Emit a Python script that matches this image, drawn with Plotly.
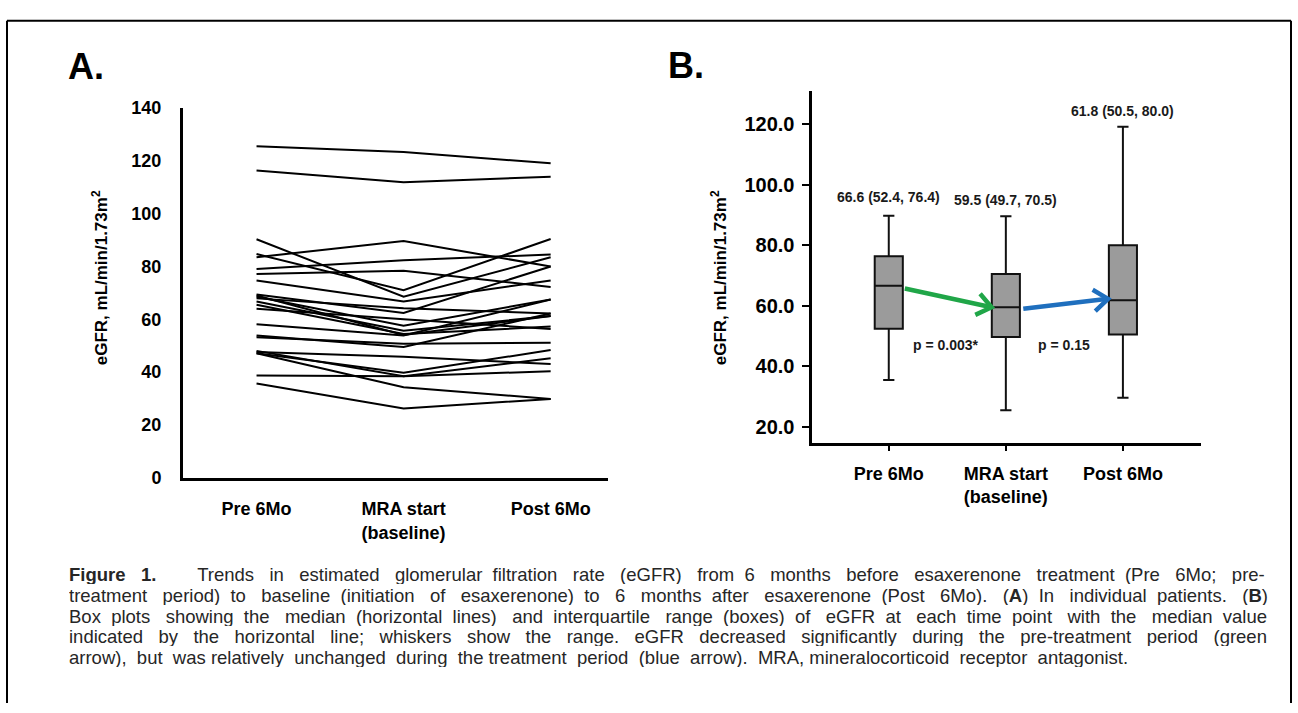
import math
import re
import plotly.graph_objects as go

W, H = 1298, 713

# ---------------- data ----------------
time_points = ["Pre 6Mo", "MRA start<br>(baseline)", "Post 6Mo"]

# Panel A: individual patients (eGFR at Pre 6Mo, MRA start, Post 6Mo)
egfr_pre = [125.6, 116.4, 90.3, 83.5, 84.7, 79.0, 77.1, 74.7, 69.4, 68.5, 67.9, 66.7,
            65.5, 64.0, 58.1, 53.8, 53.2, 47.6, 47.1, 48.0, 38.7, 47.1, 35.6, 69.0]
egfr_mra = [123.4, 111.9, 68.5, 89.6, 71.0, 82.4, 78.4, 66.7, 62.4, 57.5, 64.2, 55.6,
            54.4, 60.0, 53.8, 49.5, 50.7, 45.8, 39.7, 38.4, 38.4, 34.2, 26.2, 54.0]
egfr_post = [119.1, 114.0, 83.5, 80.0, 90.4, 84.5, 72.2, 74.7, 80.0, 67.5, 62.2, 61.2,
             57.2, 56.3, 67.5, 62.2, 51.1, 43.0, 48.3, 45.2, 40.3, 29.8, 29.8, 61.2]

# Panel B: box plot summary statistics
box_min = [35.5, 25.5, 29.6]
box_q1 = [52.4, 49.7, 50.5]
box_median = [66.6, 59.5, 61.8]
box_q3 = [76.4, 70.5, 80.0]
box_max = [89.8, 89.6, 119.2]
box_labels = ["66.6 (52.4, 76.4)", "59.5 (49.7, 70.5)", "61.8 (50.5, 80.0)"]

# arrows (start x, start y, end x, end y) in data units of panel B
arrow_green = (0.137, 65.7, 0.878, 59.5)
arrow_blue = (1.149, 59.05, 1.873, 62.3)
p_labels = ["p = 0.003*", "p = 0.15"]
p_label_pos = [(0.49, 47.0), (1.5, 47.0)]

yticks_a = [0, 20, 40, 60, 80, 100, 120, 140]
yticks_b = [20.0, 40.0, 60.0, 80.0, 100.0, 120.0]

caption_lines = [
    "<b>Figure 1.</b>   Trends in estimated glomerular filtration rate (eGFR) from 6 months before esaxerenone treatment (Pre 6Mo; pre-",
    "treatment period) to baseline (initiation of esaxerenone) to 6 months after esaxerenone (Post 6Mo). (<b>A</b>) In individual patients. (<b>B</b>)",
    "Box plots showing the median (horizontal lines) and interquartile range (boxes) of eGFR at each time point with the median value",
    "indicated by the horizontal line; whiskers show the range. eGFR decreased significantly during the pre-treatment period (green",
    "arrow), but was relatively unchanged during the treatment period (blue arrow). MRA, mineralocorticoid receptor antagonist.",
]
caption_right_edge = [1264, 1264, 1264, 1264, 1128]

# ---------------- layout geometry ----------------
def px(x):
    return x / W

def py(y):
    return 1 - y / H

xa_dom = [px(183), px(608)]
ya_dom = [py(481), py(101)]
xb_dom = [px(811.5), px(1201)]
yb_dom = [py(446), py(83)]
xa_range = [-0.5, 2.39]
ya_range = [0, 140]
xb_range = [-0.66, 2.667]
yb_range = [14.5, 131.1]

FONT = "Liberation Sans, Arial, Helvetica, sans-serif"
CAP_SIZE = 18.5
CAP_X0 = 67

# Arial / Liberation Sans advance widths (1/1000 em) for justification
_CW = {" ": 278, ".": 278, ",": 278, ";": 278, ":": 278, "(": 333, ")": 333, "-": 333, "*": 389,
       "a": 556, "b": 556, "c": 500, "d": 556, "e": 556, "f": 278, "g": 556, "h": 556, "i": 222,
       "j": 222, "k": 500, "l": 222, "m": 833, "n": 556, "o": 556, "p": 556, "q": 556, "r": 333,
       "s": 500, "t": 278, "u": 556, "v": 500, "w": 722, "x": 500, "y": 500, "z": 500,
       "A": 667, "B": 667, "C": 722, "D": 722, "E": 667, "F": 611, "G": 778, "H": 722, "I": 278,
       "M": 833, "P": 667, "R": 722, "T": 611}

def measure(html, size):
    total, bold = 0.0, False
    for tok in re.split(r"(<b>|</b>)", html):
        if tok == "<b>":
            bold = True
            continue
        if tok == "</b>":
            bold = False
            continue
        for ch in tok:
            w = _CW.get(ch, 556)
            total += w * (1.07 if bold and ch != " " else 1.0)
    return total * size / 1000

def justify(html, size, width):
    parts = html.split(" ")
    gaps = len(parts) - 1
    extra = width - measure(html, size)
    n = max(0, int(round(extra / (0.278 * size))))
    out = parts[0]
    acc = 0.0
    for k in range(1, len(parts)):
        target = n * k / gaps
        add = int(round(target - acc))
        acc += add
        out += " " * (1 + add) + parts[k]
    return out

fig = go.Figure()

# Panel A lines
xs = [0, 1, 2]
for a, b, c in zip(egfr_pre, egfr_mra, egfr_post):
    fig.add_trace(go.Scatter(x=xs, y=[a, b, c], mode="lines",
                             line=dict(color="black", width=2),
                             xaxis="x", yaxis="y", showlegend=False, hoverinfo="skip"))

# Panel B boxes
fig.add_trace(go.Box(
    x=xs, q1=box_q1, median=box_median, q3=box_q3,
    lowerfence=box_min, upperfence=box_max,
    width=0.24, whiskerwidth=0.4,
    fillcolor="#9b9b9b", line=dict(color="#111111", width=2),
    xaxis="x2", yaxis="y2", showlegend=False, boxpoints=False, hoverinfo="skip"))

# arrows in panel B (shaft + open chevron head)
xb_ppu = (xb_dom[1] - xb_dom[0]) * W / (xb_range[1] - xb_range[0])
yb_ppu = (yb_dom[1] - yb_dom[0]) * H / (yb_range[1] - yb_range[0])

def arrow(coords, color):
    x0, y0, x1, y1 = coords
    dxp = (x1 - x0) * xb_ppu
    dyp = (y1 - y0) * yb_ppu
    ang = math.atan2(dyp, dxp)
    L = 18
    arms = []
    for s in (1, -1):
        a = ang + math.pi + s * math.radians(38)
        arms.append((x1 + L * math.cos(a) / xb_ppu, y1 + L * math.sin(a) / yb_ppu))
    fig.add_trace(go.Scatter(x=[x0, x1], y=[y0, y1], mode="lines",
                             line=dict(color=color, width=4.5),
                             xaxis="x2", yaxis="y2", showlegend=False, hoverinfo="skip"))
    fig.add_trace(go.Scatter(x=[arms[0][0], x1, arms[1][0]], y=[arms[0][1], y1, arms[1][1]],
                             mode="lines", line=dict(color=color, width=4.5),
                             xaxis="x2", yaxis="y2", showlegend=False, hoverinfo="skip"))

arrow(arrow_green, "#20a648")
arrow(arrow_blue, "#1f6fbe")

annotations = []
# box labels
for i, (lab, mx) in enumerate(zip(box_labels, box_max)):
    annotations.append(dict(x=i, y=mx, xref="x2", yref="y2", text=lab, showarrow=False,
                            xanchor="center", yanchor="bottom", yshift=6 if i != 0 else 9,
                            font=dict(family=FONT, size=14, color="#1a1a1a", weight="bold")))
for lab, (x, y) in zip(p_labels, p_label_pos):
    annotations.append(dict(x=x, y=y, xref="x2", yref="y2", text=lab, showarrow=False,
                            xanchor="center", yanchor="middle",
                            font=dict(family=FONT, size=14, color="#1a1a1a", weight="bold")))

# y axis titles
ytitle = "eGFR, mL/min/1.73m<sup>2</sup>"
annotations.append(dict(x=px(100), y=py(276), xref="paper", yref="paper", text=ytitle,
                        textangle=-90, showarrow=False, xanchor="center", yanchor="middle",
                        font=dict(family=FONT, size=17, color="black", weight="bold")))
annotations.append(dict(x=px(719), y=py(276), xref="paper", yref="paper", text=ytitle,
                        textangle=-90, showarrow=False, xanchor="center", yanchor="middle",
                        font=dict(family=FONT, size=17, color="black", weight="bold")))

# panel letters
annotations.append(dict(x=px(66), y=py(58), xref="paper", yref="paper", text="<b>A.</b>",
                        showarrow=False, xanchor="left", yanchor="middle",
                        font=dict(family=FONT, size=36, color="black")))
annotations.append(dict(x=px(666), y=py(57), xref="paper", yref="paper", text="<b>B.</b>",
                        showarrow=False, xanchor="left", yanchor="middle",
                        font=dict(family=FONT, size=36, color="black")))

# caption
cap_y = [580.5, 601.8, 623.1, 644.4, 665.7]
for line, right, yy in zip(caption_lines, caption_right_edge, cap_y):
    txt = justify(line, CAP_SIZE, right - CAP_X0)
    annotations.append(dict(x=px(CAP_X0), y=py(yy), xref="paper", yref="paper", text=txt,
                            showarrow=False, xanchor="left", yanchor="middle", height=20,
                            font=dict(family=FONT, size=CAP_SIZE, color="#262626")))

shapes = [
    dict(type="line", xref="paper", yref="paper", x0=px(7), x1=px(1291), y0=py(11), y1=py(11),
         line=dict(color="black", width=2)),
    dict(type="line", xref="paper", yref="paper", x0=px(7), x1=px(7), y0=py(11), y1=py(713),
         line=dict(color="black", width=2)),
    dict(type="line", xref="paper", yref="paper", x0=px(1291), x1=px(1291), y0=py(11), y1=py(713),
         line=dict(color="black", width=2)),
]

tickfont_a = dict(family=FONT, size=18, color="black", weight="bold")
fig.update_layout(
    width=W, height=H, margin=dict(l=0, r=0, t=0, b=0),
    paper_bgcolor="white", plot_bgcolor="white", showlegend=False,
    xaxis=dict(domain=xa_dom, range=xa_range, tickvals=xs, ticktext=time_points,
               showgrid=False, zeroline=False, showline=True, linecolor="black", linewidth=3,
               ticks="", ticklabelstandoff=13, tickfont=tickfont_a, anchor="y", fixedrange=True),
    yaxis=dict(domain=ya_dom, range=ya_range, tickvals=yticks_a,
               showgrid=False, zeroline=False, showline=True, linecolor="black", linewidth=3,
               ticks="", ticklabelstandoff=15, tickfont=tickfont_a, anchor="x", fixedrange=True),
    xaxis2=dict(domain=xb_dom, range=xb_range, tickvals=xs, ticktext=time_points,
                showgrid=False, zeroline=False, showline=True, linecolor="black", linewidth=3,
                ticks="outside", ticklen=5, tickwidth=2, tickcolor="black",
                ticklabelstandoff=7, tickfont=tickfont_a, anchor="y2", fixedrange=True),
    yaxis2=dict(domain=yb_dom, range=yb_range, tickvals=yticks_b,
                ticktext=[f"{v:.1f}" for v in yticks_b],
                showgrid=False, zeroline=False, showline=True, linecolor="black", linewidth=3,
                ticks="outside", ticklen=7, tickwidth=2, tickcolor="black",
                ticklabelstandoff=3, tickfont=dict(family=FONT, size=20, color="black", weight="bold"),
                anchor="x2", fixedrange=True),
    annotations=annotations, shapes=shapes,
)

fig.write_html("out.html", config={"displayModeBar": False},
               post_script="document.body.style.margin='0';document.body.style.overflow='hidden';")
